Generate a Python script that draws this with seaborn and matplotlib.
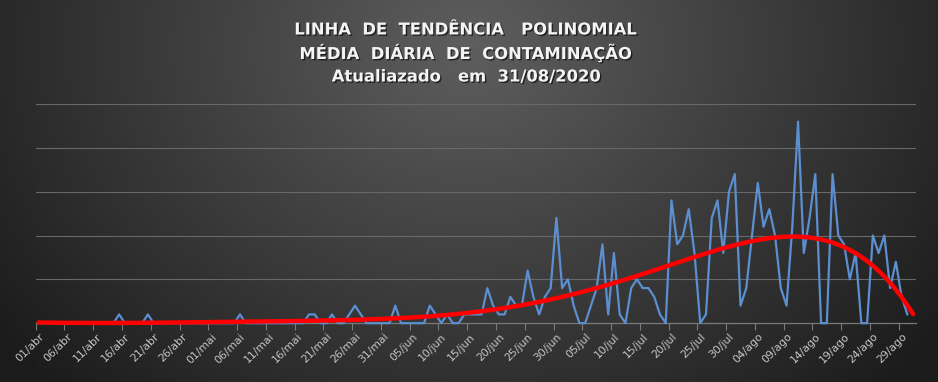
import numpy as np
import pandas as pd
import matplotlib
matplotlib.use("Agg")
import matplotlib.pyplot as plt
import matplotlib.patheffects as pe
import seaborn as sns

# ---------------- data ----------------
months = ["abr", "mai", "jun", "jul", "ago"]
month_days = [30, 31, 30, 31, 31]
dates = [f"{d:02d}/{m}" for m, n in zip(months, month_days) for d in range(1, n + 1)]

daily_cases = [
    0, 0, 0, 0, 0, 0, 0, 0, 0, 0, 0, 0, 0, 0, 1, 0, 0, 0, 0, 1,          # 01-20 abr
    0, 0, 0, 0, 0, 0, 0, 0, 0, 0,                                        # 21-30 abr
    0, 0, 0, 0, 0, 1, 0, 0, 0, 0, 0, 0, 0, 0, 0, 0, 0, 1, 1, 0,          # 01-20 mai
    0, 1, 0, 0, 1, 2, 1, 0, 0, 0, 0,                                     # 21-31 mai
    0, 2, 0, 0, 0, 0, 0, 2, 1, 0, 1, 0, 0, 1, 1, 1, 1, 4, 2, 1,          # 01-20 jun
    1, 3, 2, 2, 6, 3, 1, 3, 4, 12,                                       # 21-30 jun
    4, 5, 2, 0, 0, 2, 4, 9, 1, 8, 1, 0, 4, 5, 4, 4, 3, 1, 0, 14,         # 01-20 jul
    9, 10, 13, 8, 0, 1, 12, 14, 8, 15, 17,                               # 21-31 jul
    2, 4, 10, 16, 11, 13, 10, 4, 2, 11, 23, 8, 12, 17, 0, 0, 17, 10, 9, 5,  # 01-20 ago
    8, 0, 0, 10, 8, 10, 4, 7, 3, 1, np.nan,                              # 21-31 ago
]

df = pd.DataFrame({"idx": np.arange(len(dates)), "data": dates, "casos": daily_cases})

# polynomial trend line (Excel-style, order 6) fitted on the daily series
valid = df.dropna()
coef = np.polyfit(valid["idx"] + 1, valid["casos"], 6)
df["tendencia"] = np.polyval(coef, df["idx"] + 1)

# ---------------- figure ----------------
W, H = 938, 382
fig = plt.figure(figsize=(W / 100, H / 100), dpi=100)

# radial gradient background
bg = fig.add_axes([0, 0, 1, 1], zorder=-10)
yy, xx = np.mgrid[0:H, 0:W]
cx, cy = 0.5 * W, 0.12 * H
r = np.sqrt(((xx - cx) / (0.62 * W)) ** 2 + ((yy - cy) / (1.25 * H)) ** 2)
r = np.clip(r, 0, 1)
c0 = np.array([0x5e, 0x5e, 0x5e]) / 255
c1 = np.array([0x1c, 0x1c, 0x1c]) / 255
img = c0[None, None, :] * (1 - r[..., None]) + c1[None, None, :] * r[..., None]
bg.imshow(img, aspect="auto", extent=[0, 1, 0, 1], origin="upper")
bg.axis("off")

ax = fig.add_axes([35.7 / W, 1 - 367 / H, (916 - 35.7) / W, (367 - 104) / H])
ax.set_facecolor("none")

sns.lineplot(data=df, x="idx", y="casos", ax=ax, color="#5b8fd0", linewidth=1.6, zorder=3)
sns.lineplot(data=df, x="idx", y="tendencia", ax=ax, color="#ff0000", linewidth=3.2, zorder=4,
             solid_capstyle="round")

ax.set_xlim(-0.5, len(dates) - 0.5)
ax.set_ylim(-5, 25)
ax.set_xlabel("")
ax.set_ylabel("")

# gridlines
for v in [-5, 5, 10, 15, 20, 25]:
    ax.axhline(v, color="#686868", linewidth=0.8, zorder=1)

for s in ["left", "right", "top"]:
    ax.spines[s].set_visible(False)
ax.spines["bottom"].set_position(("data", 0))
ax.spines["bottom"].set_color("#7a7a7a")
ax.spines["bottom"].set_linewidth(0.9)
ax.set_yticks([])

label_pos = np.arange(0, len(dates), 5)
ax.set_xticks(label_pos - 0.5)
ax.set_xticklabels([])
ax.tick_params(axis="x", which="major", direction="out", length=5, color="#7a7a7a", width=0.8)
ax.set_xticks(label_pos, minor=True)
ax.set_xticklabels([dates[i] for i in label_pos], minor=True, rotation=45,
                   ha="right", va="top", rotation_mode="anchor",
                   color="#c4c4c4", fontsize=7.8)
ax.tick_params(axis="x", which="minor", length=0, pad=6)

# title
shadow = [pe.withSimplePatchShadow(offset=(1, -1), shadow_rgbFace="black", alpha=0.6)]
title_kw = dict(ha="center", va="center", color="#f4f4f4", fontweight="bold",
                fontsize=11.8, family="DejaVu Sans", path_effects=shadow)
fig.text(466 / W, 1 - 30 / H, "LINHA  DE  TENDÊNCIA   POLINOMIAL", **title_kw)
fig.text(466 / W, 1 - 53 / H, "MÉDIA  DIÁRIA  DE  CONTAMINAÇÃO", **title_kw)
fig.text(466 / W, 1 - 77 / H, "Atualiazado   em  31/08/2020", **title_kw)

fig.savefig("out.png", dpi=100)
